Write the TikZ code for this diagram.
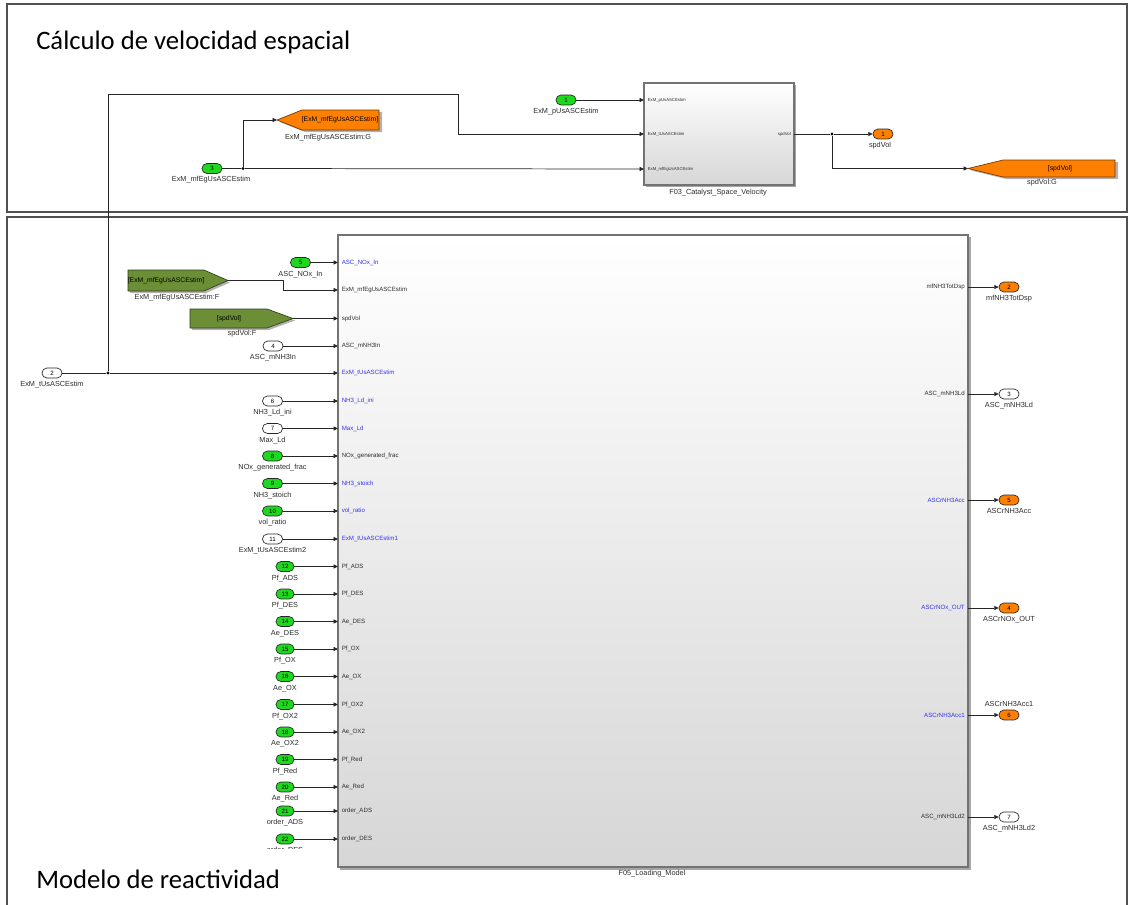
\documentclass[tikz,border=0pt]{standalone}
\usepackage{fontspec}
\setmainfont{Carlito}
\newfontfamily\slfont{Liberation Sans}
\usetikzlibrary{arrows.meta}
\definecolor{sgreen}{RGB}{30,215,30}
\definecolor{sorange}{RGB}{255,128,0}
\definecolor{solive}{RGB}{107,142,55}
\definecolor{sblue}{RGB}{50,50,235}
\definecolor{sframe}{RGB}{80,80,80}
\definecolor{stext}{RGB}{45,45,45}
\tikzset{
  wire/.style={draw=black!85, line width=0.55pt},
  arr/.style={wire, -{Triangle[length=3.3pt,width=3pt]}},
  pill/.style={draw=black!85, line width=0.5pt, rounded corners=3.6pt, minimum width=15pt, minimum height=7.4pt, inner sep=0pt, text=black, font=\slfont\fontsize{4.6}{5}\selectfont},
  gpill/.style={pill, fill=sgreen},
  npill/.style={gpill, minimum width=13.5pt},
  opill/.style={pill, fill=sorange},
  wpill/.style={pill, fill=white},
  lbl/.style={font=\slfont\fontsize{5.5}{6}\selectfont, text=stext, inner sep=0pt, anchor=base},
  plbl/.style={font=\slfont\fontsize{4.6}{5}\selectfont, text=stext, inner sep=0pt},
  qlbl/.style={font=\slfont\fontsize{3.2}{3.5}\selectfont, text=stext, inner sep=0pt},
  tagtext/.style={font=\slfont\fontsize{5.1}{6}\selectfont, text=black, inner sep=0pt},
  junc/.style={circle, fill=black, inner sep=0pt, minimum size=2.4pt},
  heading/.style={font=\fontsize{20}{24}\selectfont, inner sep=0pt, anchor=base west, text=black},
  frame/.style={draw=sframe, line width=0.9pt},
  sshadow/.style={fill=black!35},
  blockbox/.style={top color=white, bottom color=black!16, draw=black!55, line width=1.1pt, inner sep=0pt},
  gototag/.style={fill=sorange, draw=black!55!sorange, line width=0.5pt},
  fromtag/.style={fill=solive, draw=black!55!solive, line width=0.5pt},
}
\begin{document}
\begin{tikzpicture}[x=0.75pt,y=-0.75pt]
\useasboundingbox (0,0) rectangle (1128,904);
\fill[white] (0,0) rectangle (1128,904);

% ---------------- frames
\draw[frame] (7,4) rectangle (1127,212);
\draw[frame] (7,217) rectangle (1127,912);
\node[heading] (h1) at (36,49) {Cálculo de velocidad espacial};

% ---------------- F03 block
\fill[sshadow] (646,85) rectangle (796,187);
\node[blockbox, minimum width=112.5pt, minimum height=76.5pt] (F03) at (719,134) {};
\coordinate (F03i1) at (644,100);
\coordinate (F03i2) at (644,134);
\coordinate (F03i3) at (644,169);
\coordinate (F03o1) at (794,134);
\node[qlbl, anchor=west] (F03l1) at (647.5,100) {ExM\_pUsASCEstim};
\node[qlbl, anchor=west] (F03l2) at (647.5,134) {ExM\_tUsASCEstim};
\node[qlbl, anchor=west] (F03l3) at (647.5,169) {ExM\_mfEgUsASCEstim};
\node[qlbl, anchor=east] (F03l4) at (791,134) {spdVol};
\node[lbl] (F03name) at (718,194.6) {F03\_Catalyst\_Space\_Velocity};

% inport 1
\node[gpill] (in1) at (566,100) {1};
\node[lbl] (in1l) at (566,113.6) {ExM\_pUsASCEstim};
\draw[arr] (in1) -- (F03i1);

% inport 3 and goto
\node[gpill] (in3) at (212,168.5) {3};
\node[lbl] (in3l) at (211,181.6) {ExM\_mfEgUsASCEstim};
\node[junc] (j3) at (243,168.5) {};
\coordinate (gA) at (277,120);
\fill[black!30] (280,122) -- (305,112) -- (382,112) -- (382,132) -- (305,132) -- cycle;
\path[gototag] (gA) -- (302,110) -- (379,110) -- (379,130) -- (302,130) -- cycle;
\node[tagtext] (gAt) at (340,120) {[ExM\_mfEgUsASCEstim]};
\node[lbl] (gAl) at (328,139.6) {ExM\_mfEgUsASCEstim:G};
\draw[wire] (in3) -- (j3);
\draw[arr] (j3) -- (F03i3);
\draw[arr] (j3) |- (gA);

% output of F03
\node[junc] (jo) at (832,134) {};
\node[opill] (out1) at (883,134) {1};
\node[lbl] (out1l) at (880,147.6) {spdVol};
\coordinate (gB) at (968,168.5);
\fill[black!30] (971,170.5) -- (1006,162) -- (1118,162) -- (1118,179) -- (1006,179) -- cycle;
\path[gototag] (gB) -- (1003,160) -- (1115,160) -- (1115,177) -- (1003,177) -- cycle;
\node[tagtext] (gBt) at (1060,168.5) {[spdVol]};
\node[lbl] (gBl) at (1042,184.6) {spdVol:G};
\draw[wire] (F03o1) -- (jo);
\draw[arr] (jo) -- (out1);
\draw[arr] (jo) |- (gB);

% ---------------- F05 block
\fill[sshadow] (340,237) rectangle (971,870);
\node[blockbox, minimum width=472.5pt, minimum height=474pt] (F05) at (653,551) {};
\node[lbl] (F05name) at (652,875.6) {F05\_Loading\_Model};

% inport 2 with junction feeding F03
\node[wpill] (in2) at (52,373) {2};
\node[lbl] (in2l) at (52,386.6) {ExM\_tUsASCEstim};
\node[junc] (jt) at (108,373) {};
\coordinate (F05e) at (338,373);
\draw[wire] (in2) -- (jt);
\draw[arr] (jt) -- (F05e);
\draw[arr] (jt) -- (108,94) -| (458,134) -- (F03i2);
\node[plbl, text=sblue, anchor=west] (F05le) at (341.5,373) {ExM\_tUsASCEstim};

% from blocks
\coordinate (fA) at (228,280.5);
\fill[black!30] (130,272) -- (206,272) -- (230,282.5) -- (206,293) -- (130,293) -- cycle;
\path[fromtag] (128,270) -- (204,270) -- (fA) -- (204,291) -- (128,291) -- cycle;
\node[tagtext] (fAt) at (166,280.5) {[ExM\_mfEgUsASCEstim]};
\node[lbl] (fAl) at (177,299.6) {ExM\_mfEgUsASCEstim:F};
\coordinate (F05f1) at (338,290);
\draw[arr] (fA) -- ++(55,0) |- (F05f1);
\node[plbl, anchor=west] (F05lf1) at (341.5,290) {ExM\_mfEgUsASCEstim};

\coordinate (fB) at (293,318.5);
\fill[black!30] (192,311) -- (269,311) -- (295,320.5) -- (269,330) -- (192,330) -- cycle;
\path[fromtag] (190,309) -- (267,309) -- (fB) -- (267,328) -- (190,328) -- cycle;
\node[tagtext] (fBt) at (229,318.5) {[spdVol]};
\node[lbl] (fBl) at (242,335.6) {spdVol:F};
\coordinate (F05f2) at (338,318.5);
\draw[arr] (fB) -- (F05f2);
\node[plbl, anchor=west] (F05lf2) at (341.5,318.5) {spdVol};

% left inports of F05
\foreach \y/\n/\st/\px/\ol/\il/\ic in {
 262.5/5/gpill/300.5/ASC\_NOx\_In/ASC\_NOx\_In/sblue,
 346/4/wpill/273/ASC\_mNH3In/ASC\_mNH3In/stext,
 401/6/wpill/272.5/NH3\_Ld\_ini/NH3\_Ld\_ini/sblue,
 428.5/7/wpill/272.5/Max\_Ld/Max\_Ld/sblue,
 456/8/gpill/272.5/NOx\_generated\_frac/NOx\_generated\_frac/stext,
 483.5/9/gpill/272.5/NH3\_stoich/NH3\_stoich/sblue,
 511/10/gpill/272.5/vol\_ratio/vol\_ratio/sblue,
 539/11/wpill/272.5/ExM\_tUsASCEstim2/ExM\_tUsASCEstim1/sblue,
 566.5/12/npill/285/Pf\_ADS/Pf\_ADS/stext,
 594/13/npill/285/Pf\_DES/Pf\_DES/stext,
 621.5/14/npill/285/Ae\_DES/Ae\_DES/stext,
 649/15/npill/285/Pf\_OX/Pf\_OX/stext,
 676.5/16/npill/285/Ae\_OX/Ae\_OX/stext,
 704.5/17/npill/285/Pf\_OX2/Pf\_OX2/stext,
 732/18/npill/285/Ae\_OX2/Ae\_OX2/stext,
 759.5/19/npill/285/Pf\_Red/Pf\_Red/stext,
 787/20/npill/285/Ae\_Red/Ae\_Red/stext,
 811/21/npill/285/order\_ADS/order\_ADS/stext,
 839/22/npill/285/order\_DES/order\_DES/stext}{
  \node[\st] (p\n) at (\px,\y) {\n};
  \node[lbl] (pl\n) at (\px,{\y+13.6}) {\ol};
  \coordinate (F05i\n) at (338,\y);
  \draw[arr] (p\n) -- (F05i\n);
  \node[plbl, text=\ic, anchor=west] (il\n) at (341.5,\y) {\il};
}

% right outports of F05
\foreach \y/\n/\st/\ol/\ic/\ly in {
 287/2/opill/mfNH3TotDsp/stext/13.6,
 394/3/wpill/ASC\_mNH3Ld/stext/13.6,
 500/5/opill/ASCrNH3Acc/sblue/13.6,
 608/4/opill/ASCrNOx\_OUT/sblue/13.6,
 715/6/opill/ASCrNH3Acc1/sblue/-8.4,
 817/7/wpill/ASC\_mNH3Ld2/stext/13.6}{
  \coordinate (F05o\n) at (968,\y);
  \node[\st] (q\n) at (1009,\y) {\n};
  \draw[arr] (F05o\n) -- (q\n);
  \node[plbl, text=\ic, anchor=east] (ol\n) at (965,\y) {\ol};
  \node[lbl] (qo\n) at (1009,{\y+\ly}) {\ol};
}

% title of lower area (its box hides the bottom of the last label)
\fill[white] (9,849) rectangle (334,902);
\node[heading] (h2) at (36,888) {Modelo de reactividad};
\end{tikzpicture}
\end{document}
